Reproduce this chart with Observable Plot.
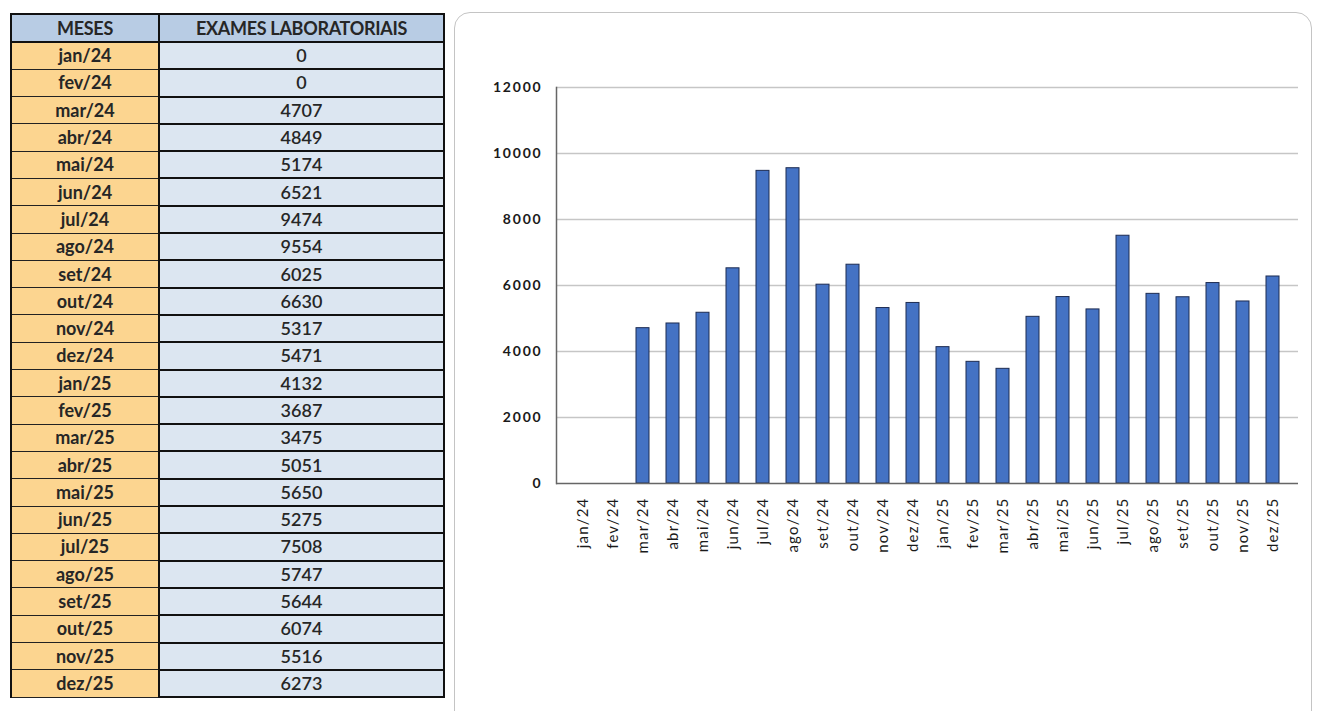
<!DOCTYPE html>
<html>
<head>
<meta charset="utf-8">
<script src="https://cdn.jsdelivr.net/npm/d3@7"></script>
<script src="https://cdn.jsdelivr.net/npm/@observablehq/plot@0.6"></script>
<style>
  html, body { margin: 0; padding: 0; background: #fff; width: 1317px; height: 711px; overflow: hidden; }
  #tbl { position: absolute; left: 10px; top: 13px; border-collapse: collapse; font-family: "Lato", sans-serif; font-weight: bold; font-size: 18px; color: #262626; }
  #tbl th, #tbl td { padding: 0; text-align: center; height: 25.3px; line-height: 25px; }
  #tbl th { background: #b8cce4; border: 2px solid #111; height: 26px; letter-spacing: -0.3px; }
  #tbl td.m { background: #fcd590; width: 146px; border-left: 2px solid #111; border-right: 2px solid #111; border-bottom: 1.5px solid #222; }
  #tbl td.v { background: #dce6f1; width: 283px; border: 2px solid #111; font-weight: 600; }
  #panel { position: absolute; left: 454px; top: 12px; width: 858px; height: 720px; border: 1.5px solid #c4c4c4; border-radius: 16px; box-sizing: border-box; }
  #chart { position: absolute; left: 455px; top: 0px; }
  #chart svg g[aria-label="x-axis tick label"] text { letter-spacing: 1.2px; }
  #chart svg g[aria-label="y-axis tick label"] text { letter-spacing: 1.8px; }
</style>
</head>
<body>
<table id="tbl"></table>
<div id="panel"></div>
<div id="chart"></div>
<script>
const headers = ["MESES", "EXAMES LABORATORIAIS"];
const months = ["jan/24","fev/24","mar/24","abr/24","mai/24","jun/24","jul/24","ago/24","set/24","out/24","nov/24","dez/24",
                "jan/25","fev/25","mar/25","abr/25","mai/25","jun/25","jul/25","ago/25","set/25","out/25","nov/25","dez/25"];
const exames = [0, 0, 4707, 4849, 5174, 6521, 9474, 9554, 6025, 6630, 5317, 5471,
                4132, 3687, 3475, 5051, 5650, 5275, 7508, 5747, 5644, 6074, 5516, 6273];
const yTicks = [0, 2000, 4000, 6000, 8000, 10000, 12000];

// table
const tbl = document.getElementById("tbl");
const hr = document.createElement("tr");
headers.forEach(h => { const th = document.createElement("th"); th.textContent = h; hr.appendChild(th); });
tbl.appendChild(hr);
months.forEach((m, i) => {
  const tr = document.createElement("tr");
  const a = document.createElement("td"); a.className = "m"; a.textContent = m;
  const b = document.createElement("td"); b.className = "v"; b.textContent = exames[i];
  tr.appendChild(a); tr.appendChild(b); tbl.appendChild(tr);
});

const data = months.map((m, i) => ({month: m, value: exames[i]}));

const chart = Plot.plot({
  width: 862,
  height: 711,
  marginLeft: 101,
  marginRight: 19,
  marginTop: 87,
  marginBottom: 228,
  style: { fontFamily: "Lato, sans-serif", fontSize: "13px", color: "#1a1a1a", background: "transparent" },
  x: { domain: months, paddingInner: 0.58, paddingOuter: 0.29, label: null },
  y: { domain: [0, 12000], label: null },
  marks: [
    Plot.ruleY(yTicks.filter(d => d > 0), { stroke: "#c6c6c6", strokeWidth: 1.5 }),
    Plot.barY(data, { x: "month", y: "value", fill: "#4472c4", stroke: "#1d2c52", strokeWidth: 1 }),
    Plot.ruleY([0], { stroke: "#666", strokeWidth: 1.5 }),
    Plot.frame({ anchor: "left", stroke: "#666", strokeWidth: 1.5 }),
    Plot.axisY(yTicks, { tickSize: 0, tickPadding: 14, fontWeight: "bold", fontSize: 14, tickFormat: d => String(d) }),
    Plot.axisX({ tickSize: 0, tickPadding: 14, tickRotate: -90, fontSize: 15 })
  ]
});
document.getElementById("chart").appendChild(chart);
</script>
</body>
</html>
